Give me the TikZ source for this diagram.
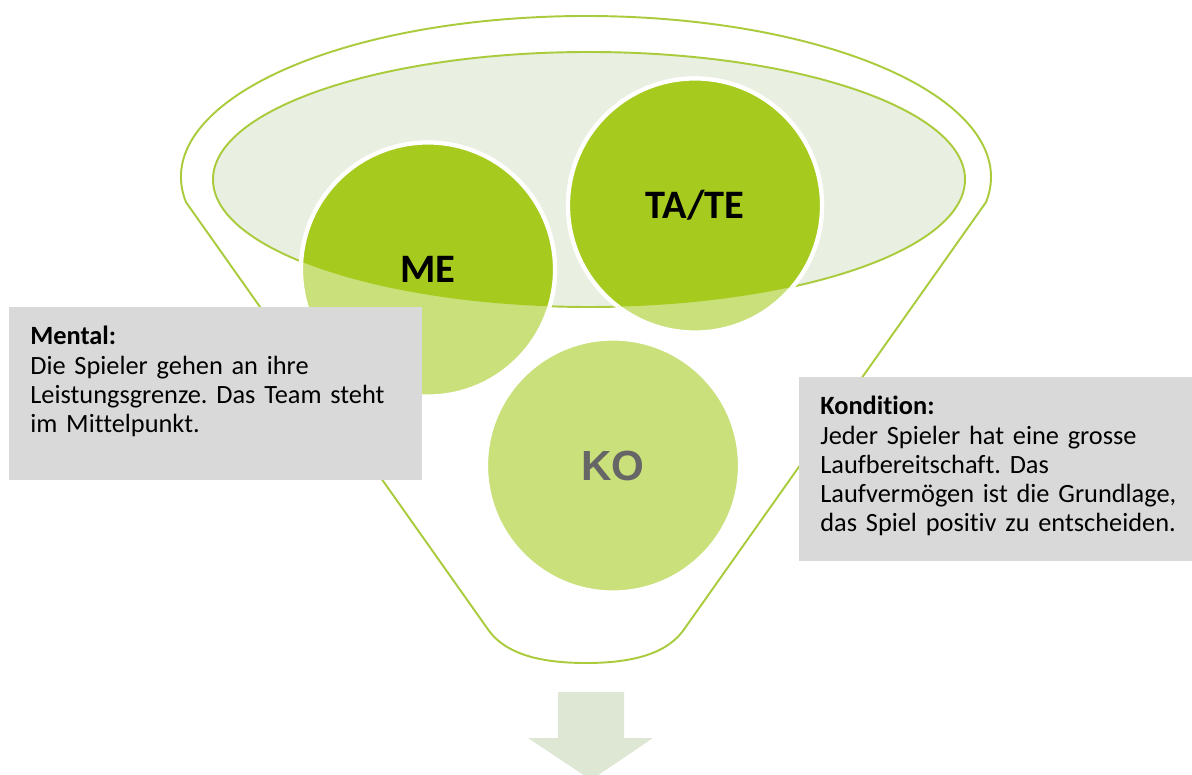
\documentclass[tikz,border=0pt]{standalone}
\usepackage{fontspec}
\setmainfont{Carlito}[Ligatures=NoCommon, WordSpace={1,0,0}]
\newfontfamily\kofont{Liberation Sans}
\frenchspacing
\definecolor{rimgreen}{HTML}{A9CB3C}
\definecolor{balldark}{HTML}{A6CB1E}
\definecolor{balllight}{HTML}{C9E07B}
\definecolor{bowlfill}{HTML}{E9F0E2}
\definecolor{notegray}{HTML}{D9D9D9}
\definecolor{arrowfill}{HTML}{DDE7D3}
\definecolor{kogray}{HTML}{666666}
\tikzset{
	rim/.style={draw=rimgreen, line width=1.1pt},
	ball/.style={draw=white, line width=2.4pt},
	balltext/.style={inner sep=0pt, font=\fontsize{23}{26}\selectfont\bfseries},
	notebox/.style={fill=notegray, anchor=north west, inner sep=0pt},
	notetext/.style={anchor=north west, inner sep=0pt, align=left, text width=7.4cm,
		font=\fontsize{15}{16.6}\selectfont}
}
\begin{document}
\begin{tikzpicture}[x=0.02cm, y=0.02cm]
	\useasboundingbox (0,0) rectangle (1192,774);
	\newcommand {\rad} {127}
	% funnel
	\filldraw[rim, fill=white] (586,597) ++(189:405 and 161)
		arc [start angle=189, end angle=-9, x radius=405, y radius=161]
		-- (685,146) .. controls (668,120) and (632,111) .. (586,111)
		.. controls (540,111) and (504,120) .. (487,146) -- cycle;
	\filldraw[rim, fill=bowlfill] (589,594.5) ellipse [x radius=376, y radius=127.5];
	\coordinate (me) at (428,504.5);
	\coordinate (tate) at (695,568.5);
	\coordinate (ko) at (613,308.5);
	\foreach \b in {me,tate,ko}
	{
		\filldraw[ball, fill=balllight] (\b) circle [radius=\rad];
	}
	\begin{scope}
		\clip (589,594.5) ellipse [x radius=376, y radius=127.5];
		\foreach \b in {me,tate}
		{
			\filldraw[ball, fill=balldark] (\b) circle [radius=\rad];
		}
	\end{scope}
	\node[balltext] (melabel) at (me) {ME};
	\node[balltext] (tatelabel) at (tate) {TA/TE};
	\node[balltext, font=\kofont\fontsize{24}{27}\selectfont\bfseries, text=kogray] (kolabel) at (ko) {KO};
	% notes
	\node[notebox, minimum width=8.26cm, minimum height=3.46cm] (mentalbox) at (9,467) {};
	\node[notetext] (mentaltext) at ([shift={(21,-19)}]mentalbox.north west)
		{\textbf{Mental:}\\Die Spieler gehen an ihre\\Leistungsgrenze. Das Team steht\\im Mittelpunkt.};
	\node[notebox, minimum width=7.86cm, minimum height=3.68cm] (konbox) at (799,397) {};
	\node[notetext] (kontext) at ([shift={(21,-19)}]konbox.north west)
		{\textbf{Kondition:}\\Jeder Spieler hat eine grosse\\Laufbereitschaft. Das\\Laufvermögen ist die Grundlage,\\das Spiel positiv zu entscheiden.};
	% arrow
	\fill[arrowfill] (558,82) -- (624,82) -- (624,36) -- (653,36) -- (591,-6)
		-- (528,36) -- (558,36) -- cycle;
\end{tikzpicture}
\end{document}
